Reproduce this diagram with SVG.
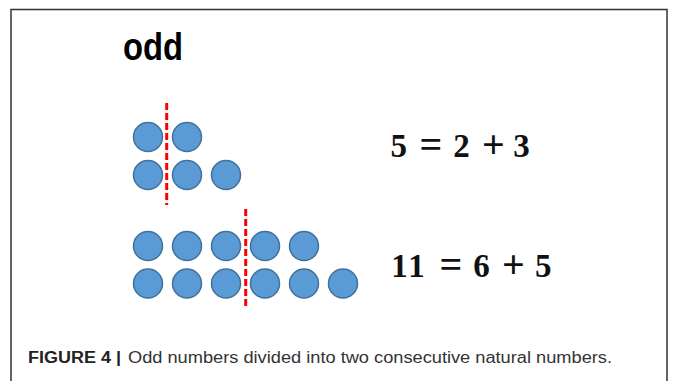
<svg xmlns="http://www.w3.org/2000/svg" width="673" height="381" viewBox="0 0 673 381">
<style>
.dot{fill:#5b9bd5;stroke:#41719c;stroke-width:1.5}
.cut{stroke:#ff0000;stroke-width:3;stroke-dasharray:7 3;fill:none}
.eq{font-family:"Liberation Serif",serif;font-weight:bold;font-size:33px;fill:#111;text-anchor:middle}
.op{font-size:40px}
</style>
<rect x="0" y="0" width="673" height="381" fill="#fff"/>
<rect x="11" y="9.5" width="656" height="400" fill="none" stroke="#333" stroke-width="1.5"/>
<text id="title" x="123" y="60" font-family="Liberation Sans, Arial, sans-serif" font-weight="bold" font-size="39" textLength="60" lengthAdjust="spacingAndGlyphs" fill="#000">odd</text>
<g id="five">
<circle class="dot" cx="148" cy="137" r="14.5"/>
<circle class="dot" cx="187" cy="137" r="14.5"/>
<circle class="dot" cx="148" cy="175" r="14.5"/>
<circle class="dot" cx="187" cy="175" r="14.5"/>
<circle class="dot" cx="226" cy="175" r="14.5"/>
<line class="cut" x1="166.7" y1="103" x2="166.7" y2="205"/>
</g>
<g id="eleven">
<circle class="dot" cx="148" cy="246" r="14.5"/>
<circle class="dot" cx="187" cy="246" r="14.5"/>
<circle class="dot" cx="226" cy="246" r="14.5"/>
<circle class="dot" cx="265" cy="246" r="14.5"/>
<circle class="dot" cx="304" cy="246" r="14.5"/>
<circle class="dot" cx="148" cy="283.5" r="14.5"/>
<circle class="dot" cx="187" cy="283.5" r="14.5"/>
<circle class="dot" cx="226" cy="283.5" r="14.5"/>
<circle class="dot" cx="265" cy="283.5" r="14.5"/>
<circle class="dot" cx="304" cy="283.5" r="14.5"/>
<circle class="dot" cx="343" cy="283.5" r="14.5"/>
<line class="cut" x1="245.7" y1="209" x2="245.7" y2="309"/>
</g>
<g id="eq1">
<text class="eq" y="156.7"><tspan x="398.7">5</tspan><tspan class="op" x="431" dy="1.5">=</tspan><tspan x="461.5" dy="-1.5">2</tspan><tspan class="op" x="493.3" dy="1.5">+</tspan><tspan x="521.5" dy="-1.5">3</tspan></text>
</g>
<g id="eq2">
<text class="eq" y="276.7"><tspan x="399.5">1</tspan><tspan x="416.5">1</tspan><tspan class="op" x="451" dy="1.5">=</tspan><tspan x="481.5" dy="-1.5">6</tspan><tspan class="op" x="513.3" dy="1.5">+</tspan><tspan x="543.3" dy="-1.5">5</tspan></text>
</g>
<g id="caption" font-family="Liberation Sans, Arial, sans-serif" font-size="16">
<text x="28" y="363" font-weight="bold" fill="#222" textLength="93" lengthAdjust="spacingAndGlyphs">FIGURE 4 |</text>
<text x="128" y="363" fill="#333" textLength="484" lengthAdjust="spacingAndGlyphs">Odd numbers divided into two consecutive natural numbers.</text>
</g>
</svg>
